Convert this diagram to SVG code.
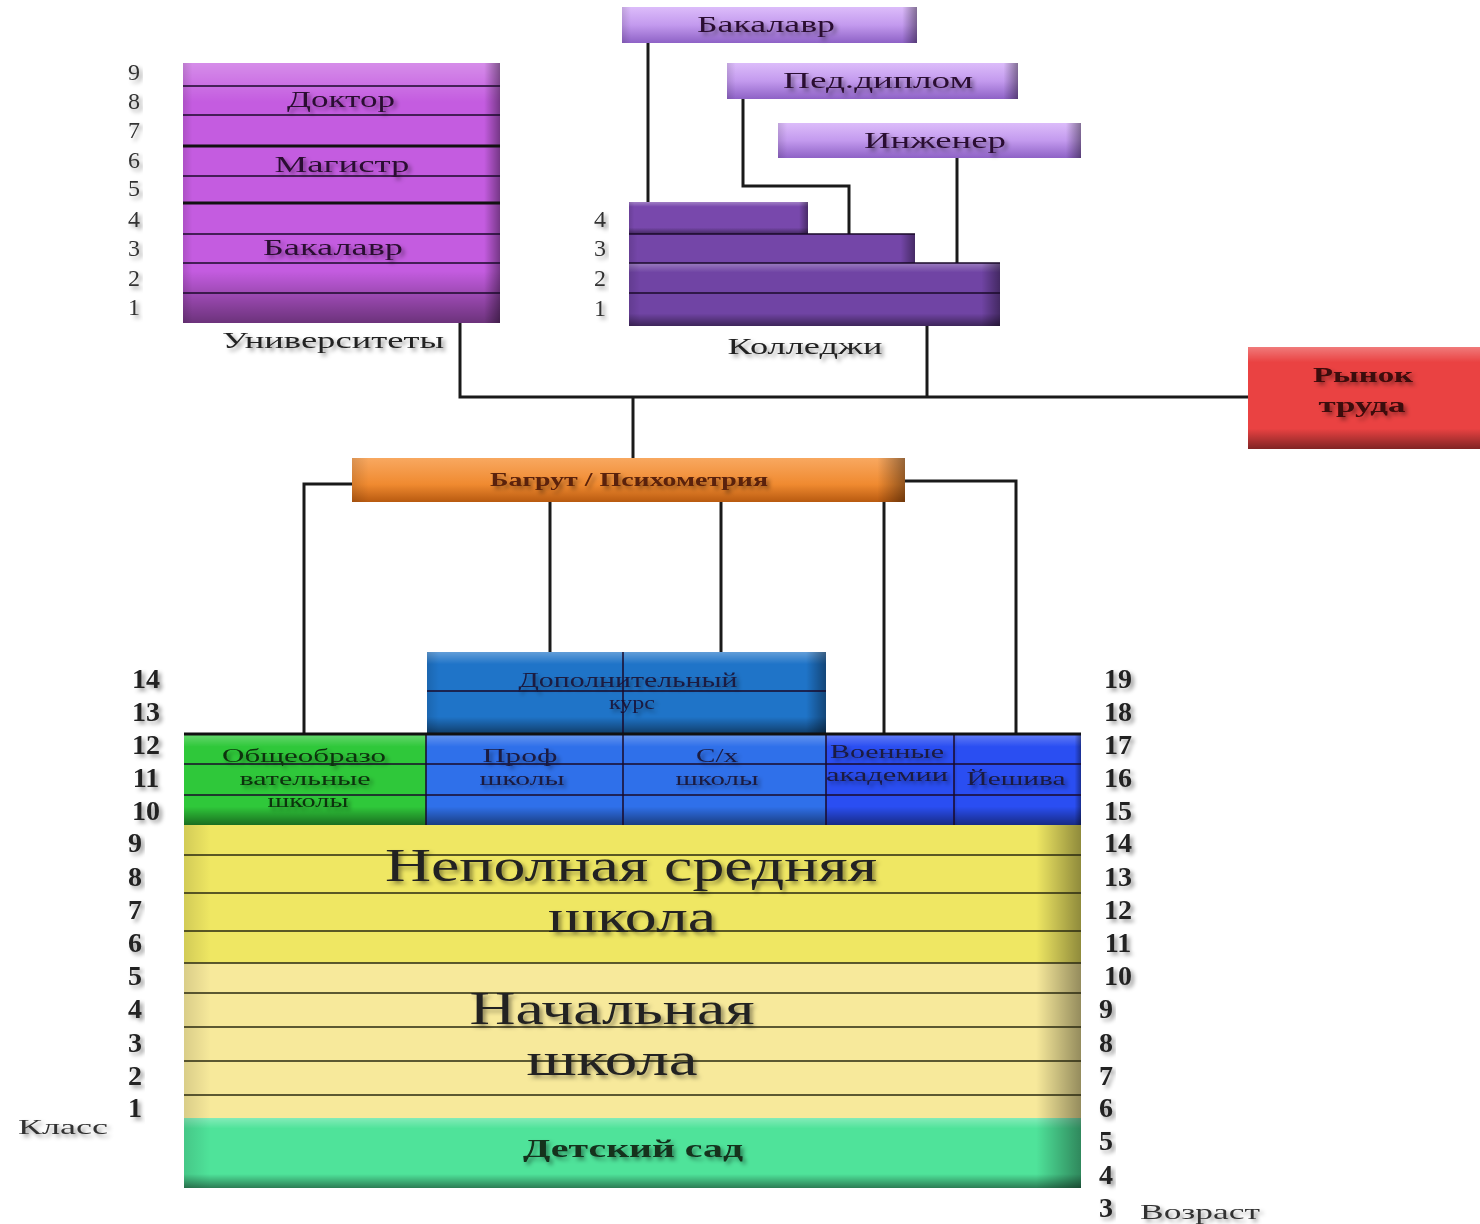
<svg xmlns="http://www.w3.org/2000/svg" width="1480" height="1224" viewBox="0 0 1480 1224">
<defs>
<linearGradient id="shV" x1="0" y1="0" x2="0" y2="1">
<stop offset="0" stop-color="#fff" stop-opacity="0.3"/>
<stop offset="0.15" stop-color="#fff" stop-opacity="0"/>
<stop offset="0.8" stop-color="#000" stop-opacity="0"/>
<stop offset="1" stop-color="#000" stop-opacity="0.45"/>
</linearGradient>
<linearGradient id="shH" x1="0" y1="0" x2="1" y2="0">
<stop offset="0" stop-color="#000" stop-opacity="0.12"/>
<stop offset="0.03" stop-color="#000" stop-opacity="0"/>
<stop offset="0.95" stop-color="#000" stop-opacity="0"/>
<stop offset="1" stop-color="#000" stop-opacity="0.4"/>
</linearGradient>
<linearGradient id="lav" x1="0" y1="0" x2="0" y2="1">
<stop offset="0" stop-color="#dcbcfa"/>
<stop offset="0.5" stop-color="#c39aee"/>
<stop offset="1" stop-color="#8e62c6"/>
</linearGradient>
<linearGradient id="orange" x1="0" y1="0" x2="0" y2="1">
<stop offset="0" stop-color="#f8a860"/>
<stop offset="0.6" stop-color="#f08a30"/>
<stop offset="1" stop-color="#b85a10"/>
</linearGradient>
<filter id="ts" x="-20%" y="-30%" width="140%" height="180%">
<feDropShadow dx="3" dy="3" stdDeviation="2" flood-color="#000" flood-opacity="0.4"/>
</filter>
</defs>
<style>
text{font-family:"Liberation Serif","DejaVu Serif",serif;text-anchor:middle;filter:url(#ts)}
.n{font-size:24px;fill:#333}
.nb{font-size:28px;font-weight:bold;fill:#222}
.lbl{font-size:23px;fill:#2a1030}
.sm{font-size:18px;fill:#1a1a40}
.ln{stroke:#1a0a2a;stroke-width:1.5;fill:none}
.lk{stroke:#111;stroke-width:3;fill:none}
.conn path{stroke:#1a1a1a;stroke-width:3;fill:none}
.ovv{fill:url(#shV)}
.ovh{fill:url(#shH)}
.big{font-size:46px;fill:#222}
</style>
<rect width="1480" height="1224" fill="#fff"/>

<g id="connectors" class="conn">
<path d="M460,323 V397 H1248"/>
<path d="M927,326 V397"/>
<path d="M633,397 V458"/>
<path d="M648,43 V202"/>
<path d="M743,99 V186 H849 V234"/>
<path d="M957,158 V263"/>
<path d="M352,484 H304 V733"/>
<path d="M905,481 H1016 V733"/>
<path d="M550,502 V652"/>
<path d="M721,502 V652"/>
<path d="M884,502 V733"/>
</g>

<g id="universities">
<rect x="183" y="63" width="317" height="260" fill="#c45ce0"/>
<rect x="183" y="63" width="317" height="260" class="ovv"/>
<rect x="183" y="63" width="317" height="260" class="ovh"/>
<path class="ln" d="M183,86H500M183,115H500M183,176H500M183,234H500M183,263H500M183,293H500"/>
<path class="lk" d="M183,146H500M183,203H500"/>
<text class="lbl" x="341" y="107" textLength="108" lengthAdjust="spacingAndGlyphs">Доктор</text>
<text class="lbl" x="342" y="172" textLength="135" lengthAdjust="spacingAndGlyphs">Магистр</text>
<text class="lbl" x="333" y="255" textLength="140" lengthAdjust="spacingAndGlyphs">Бакалавр</text>
<text class="lbl" x="333" y="348" style="fill:#222" textLength="222" lengthAdjust="spacingAndGlyphs">Университеты</text>
<text class="n" x="134" y="80">9</text>
<text class="n" x="134" y="109">8</text>
<text class="n" x="134" y="138">7</text>
<text class="n" x="134" y="168">6</text>
<text class="n" x="134" y="196">5</text>
<text class="n" x="134" y="227">4</text>
<text class="n" x="134" y="256">3</text>
<text class="n" x="134" y="286">2</text>
<text class="n" x="134" y="315">1</text>
</g>

<g id="colleges">
<rect x="629" y="202" width="179" height="32" fill="#7848ac"/>
<rect x="629" y="202" width="179" height="32" class="ovv"/>
<rect x="629" y="202" width="179" height="32" class="ovh"/>
<rect x="629" y="234" width="286" height="29" fill="#7446a8"/>
<rect x="629" y="234" width="286" height="29" class="ovh"/>
<rect x="629" y="263" width="371" height="63" fill="#7044a4"/>
<rect x="629" y="263" width="371" height="63" class="ovv"/>
<rect x="629" y="263" width="371" height="63" class="ovh"/>
<path class="ln" d="M629,234H915M629,263H1000M629,293H1000"/>
<text class="lbl" x="805" y="354" style="fill:#222" textLength="155" lengthAdjust="spacingAndGlyphs">Колледжи</text>
<text class="n" x="600" y="227">4</text>
<text class="n" x="600" y="256">3</text>
<text class="n" x="600" y="286">2</text>
<text class="n" x="600" y="316">1</text>
</g>

<g id="college-bachelor">
<rect x="622" y="7" width="295" height="36" fill="url(#lav)"/>
<rect x="622" y="7" width="295" height="36" class="ovh"/>
<text class="lbl" x="766" y="32" textLength="138" lengthAdjust="spacingAndGlyphs">Бакалавр</text>
</g>
<g id="ped-diploma">
<rect x="727" y="63" width="291" height="36" fill="url(#lav)"/>
<rect x="727" y="63" width="291" height="36" class="ovh"/>
<text class="lbl" x="878" y="88" textLength="190" lengthAdjust="spacingAndGlyphs">Пед.диплом</text>
</g>
<g id="engineer">
<rect x="778" y="123" width="303" height="35" fill="url(#lav)"/>
<rect x="778" y="123" width="303" height="35" class="ovh"/>
<text class="lbl" x="935" y="148" textLength="142" lengthAdjust="spacingAndGlyphs">Инженер</text>
</g>

<g id="labor-market">
<rect x="1248" y="347" width="232" height="102" fill="#ea4242"/>
<rect x="1248" y="347" width="232" height="102" class="ovv"/>
<text x="1363" y="382" style="font-size:21px;font-weight:bold;fill:#3a0808" textLength="100" lengthAdjust="spacingAndGlyphs">Рынок</text>
<text x="1362" y="412" style="font-size:21px;font-weight:bold;fill:#3a0808" textLength="87" lengthAdjust="spacingAndGlyphs">труда</text>
</g>

<g id="bagrut">
<rect x="352" y="458" width="553" height="44" fill="url(#orange)"/>
<rect x="352" y="458" width="553" height="44" class="ovh"/>
<text x="629" y="486" style="font-size:18px;font-weight:bold;fill:#5a2008" textLength="278" lengthAdjust="spacingAndGlyphs">Багрут / Психометрия</text>
</g>

<g id="additional-course">
<rect x="427" y="652" width="399" height="81" fill="#1f74c8"/>
<rect x="427" y="652" width="399" height="81" class="ovv"/>
<rect x="427" y="652" width="399" height="81" class="ovh"/>
<path class="ln" d="M427,691H826"/>
<text class="sm" x="628" y="687" style="font-size:20px" textLength="219" lengthAdjust="spacingAndGlyphs">Дополнительный</text>
<text class="sm" x="632" y="709" textLength="46" lengthAdjust="spacingAndGlyphs">курс</text>
</g>

<g id="general-schools">
<rect x="184" y="733" width="242" height="92" fill="#2fc83a"/>
<rect x="184" y="733" width="242" height="92" class="ovv"/>
<path class="ln" d="M184,764H426M184,795H426"/>
<text class="sm" x="304" y="762" style="fill:#0a300a" textLength="164" lengthAdjust="spacingAndGlyphs">Общеобразо</text>
<text class="sm" x="305" y="785" style="fill:#0a300a" textLength="131" lengthAdjust="spacingAndGlyphs">вательные</text>
<text class="sm" x="308" y="807" style="fill:#0a300a" textLength="81" lengthAdjust="spacingAndGlyphs">школы</text>
</g>
<g id="prof-schools">
<rect x="426" y="733" width="197" height="92" fill="#2f70ea"/>
<rect x="426" y="733" width="197" height="92" class="ovv"/>
<path class="ln" d="M426,764H623M426,795H623"/>
<text class="sm" x="520" y="762" textLength="75" lengthAdjust="spacingAndGlyphs">Проф</text>
<text class="sm" x="522" y="785" textLength="85" lengthAdjust="spacingAndGlyphs">школы</text>
</g>
<g id="agri-schools">
<rect x="623" y="733" width="203" height="92" fill="#2f70ea"/>
<rect x="623" y="733" width="203" height="92" class="ovv"/>
<path class="ln" d="M623,764H826M623,795H826"/>
<text class="sm" x="717" y="762" textLength="42" lengthAdjust="spacingAndGlyphs">С/х</text>
<text class="sm" x="717" y="785" textLength="83" lengthAdjust="spacingAndGlyphs">школы</text>
</g>
<g id="military">
<rect x="826" y="733" width="128" height="92" fill="#2a4ef2"/>
<rect x="826" y="733" width="128" height="92" class="ovv"/>
<path class="ln" d="M826,764H954M826,795H954"/>
<text class="sm" x="887" y="758" textLength="114" lengthAdjust="spacingAndGlyphs">Военные</text>
<text class="sm" x="887" y="781" textLength="122" lengthAdjust="spacingAndGlyphs">академии</text>
</g>
<g id="yeshiva">
<rect x="954" y="733" width="127" height="92" fill="#2a4ef2"/>
<rect x="954" y="733" width="127" height="92" class="ovv"/>
<rect x="954" y="733" width="127" height="92" class="ovh"/>
<path class="ln" d="M954,764H1081M954,795H1081"/>
<text class="sm" x="1016" y="785" textLength="99" lengthAdjust="spacingAndGlyphs">Йешива</text>
</g>
<path class="ln" d="M623,652V825M426,733V825M826,733V825M954,733V825" stroke-width="2"/>
<path class="lk" d="M184,734H1081" stroke-width="2.5"/>

<g id="middle-school">
<rect x="184" y="825" width="897" height="138" fill="#efe763"/>
<rect x="184" y="825" width="897" height="138" class="ovh"/>
<path class="ln" d="M184,855H1081M184,893H1081M184,931H1081" style="stroke:#2a2a10"/>
<text class="big" x="631" y="881" textLength="492" lengthAdjust="spacingAndGlyphs">Неполная средняя</text>
<text class="big" x="632" y="932" textLength="168" lengthAdjust="spacingAndGlyphs">школа</text>
</g>

<g id="primary-school">
<rect x="184" y="963" width="897" height="155" fill="#f7e99b"/>
<rect x="184" y="963" width="897" height="155" class="ovh"/>
<path class="ln" d="M184,963H1081M184,993H1081M184,1027H1081M184,1061H1081M184,1095H1081" style="stroke:#2a2a10"/>
<text class="big" x="612" y="1024" textLength="285" lengthAdjust="spacingAndGlyphs">Начальная</text>
<text class="big" x="612" y="1075" textLength="171" lengthAdjust="spacingAndGlyphs">школа</text>
</g>

<g id="kindergarten">
<rect x="184" y="1118" width="897" height="70" fill="#4fe39a"/>
<rect x="184" y="1118" width="897" height="70" class="ovv"/>
<rect x="184" y="1118" width="897" height="70" class="ovh"/>
<text x="633" y="1157" style="font-size:25px;font-weight:bold;fill:#12301e" textLength="220" lengthAdjust="spacingAndGlyphs">Детский сад</text>
</g>

<g id="grade-axis">
<text class="nb" x="146" y="688">14</text>
<text class="nb" x="146" y="721">13</text>
<text class="nb" x="146" y="754">12</text>
<text class="nb" x="146" y="787">11</text>
<text class="nb" x="146" y="820">10</text>
<text class="nb" x="135" y="852">9</text>
<text class="nb" x="135" y="886">8</text>
<text class="nb" x="135" y="919">7</text>
<text class="nb" x="135" y="952">6</text>
<text class="nb" x="135" y="985">5</text>
<text class="nb" x="135" y="1018">4</text>
<text class="nb" x="135" y="1052">3</text>
<text class="nb" x="135" y="1085">2</text>
<text class="nb" x="135" y="1117">1</text>
<text x="63" y="1134" style="font-size:22px;fill:#333" textLength="90" lengthAdjust="spacingAndGlyphs">Класс</text>
</g>

<g id="age-axis">
<text class="nb" x="1118" y="688">19</text>
<text class="nb" x="1118" y="721">18</text>
<text class="nb" x="1118" y="754">17</text>
<text class="nb" x="1118" y="787">16</text>
<text class="nb" x="1118" y="820">15</text>
<text class="nb" x="1118" y="852">14</text>
<text class="nb" x="1118" y="886">13</text>
<text class="nb" x="1118" y="919">12</text>
<text class="nb" x="1118" y="952">11</text>
<text class="nb" x="1118" y="985">10</text>
<text class="nb" x="1106" y="1018">9</text>
<text class="nb" x="1106" y="1052">8</text>
<text class="nb" x="1106" y="1085">7</text>
<text class="nb" x="1106" y="1117">6</text>
<text class="nb" x="1106" y="1150">5</text>
<text class="nb" x="1106" y="1184">4</text>
<text class="nb" x="1106" y="1217">3</text>
<text x="1200" y="1219" style="font-size:22px;fill:#333" textLength="120" lengthAdjust="spacingAndGlyphs">Возраст</text>
</g>
</svg>
